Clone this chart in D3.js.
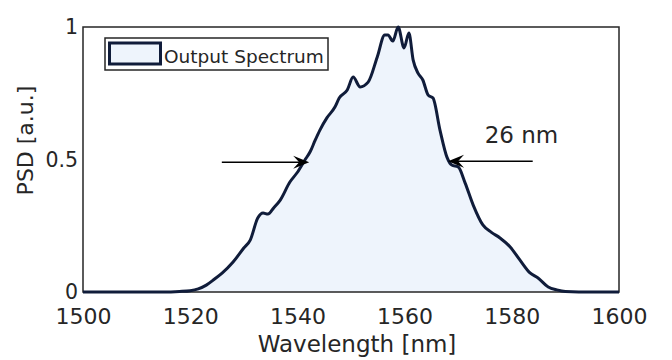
<!DOCTYPE html>
<html>
<head>
<meta charset="utf-8">
<script src="https://cdn.jsdelivr.net/npm/d3@7"></script>
<style>
  body { margin: 0; background: #fff; }
  text { font-family: 'DejaVu Sans', sans-serif; fill: #262626; }
</style>
</head>
<body>
<div id="chart"></div>
<script>
// spectrum
const wavelength = [1500, 1505, 1510, 1515, 1518, 1520, 1521.5, 1523, 1524.5, 1526, 1528, 1530, 1531.2,
  1532.6, 1533.6, 1534.5, 1535.6, 1536.8, 1538.6, 1539.9, 1541.4, 1542.4, 1543.3, 1544.2, 1545.5, 1547,
  1547.8, 1549.3, 1550.4, 1551.7, 1553.2, 1554.9, 1556.3, 1556.9, 1557.8, 1558.8, 1559.9, 1560.8, 1561.6,
  1562.5, 1563.4, 1564.4, 1565.3, 1566.6, 1567.9, 1568.8, 1570, 1571.3, 1572.8, 1574.6, 1576.2, 1577.8,
  1579.7, 1581.5, 1583.4, 1584.9, 1586.8, 1588.4, 1590, 1595, 1600];
const psd = [0, 0, 0, 0, 0.002, 0.005, 0.012, 0.026, 0.048, 0.072, 0.113, 0.166, 0.196,
  0.279, 0.298, 0.294, 0.318, 0.347, 0.415, 0.449, 0.498, 0.530, 0.572, 0.611, 0.657, 0.698,
  0.732, 0.762, 0.811, 0.774, 0.792, 0.887, 0.970, 0.970, 0.947, 1.0, 0.921, 0.977, 0.875,
  0.826, 0.800, 0.743, 0.732, 0.611, 0.509, 0.479, 0.472, 0.411, 0.328, 0.253, 0.225, 0.204,
  0.170, 0.121, 0.072, 0.053, 0.019, 0.008, 0.002, 0, 0];

const xTicks = [1500, 1520, 1540, 1560, 1580, 1600];
const yTicks = [0, 0.5, 1];
const yTickLabels = ['0', '0.5', '1'];

// FWHM annotation: [tail wavelength, tip wavelength, level]
const leftArrow = [1525.9, 1542.2, 0.49];
const rightArrow = [1583.9, 1568.1, 0.493];
const fwhmLabel = '26 nm';
const fwhmLabelPos = [1581.8, 0.562];

const margin = {top: 27, right: 53, bottom: 68, left: 83};
const width = 672 - margin.left - margin.right;
const height = 360 - margin.top - margin.bottom;

const svg = d3.select('#chart').append('svg')
  .attr('width', 672)
  .attr('height', 360);

const g = svg.append('g')
  .attr('transform', 'translate(' + margin.left + ',' + margin.top + ')');

const x = d3.scaleLinear().domain([1500, 1600]).range([0, width]);
const y = d3.scaleLinear().domain([0, 1]).range([height, 0]);

const data = wavelength.map((w, i) => ({w: w, v: psd[i]}));

const area = d3.area()
  .curve(d3.curveMonotoneX)
  .x(d => x(d.w))
  .y0(y(0))
  .y1(d => y(d.v));

const line = d3.line()
  .curve(d3.curveMonotoneX)
  .x(d => x(d.w))
  .y(d => y(d.v));

g.append('path')
  .datum(data)
  .attr('d', area)
  .attr('fill', '#eef4fc');

// axes box
g.append('rect')
  .attr('x', 0).attr('y', 0)
  .attr('width', width).attr('height', height)
  .attr('fill', 'none')
  .attr('stroke', '#262626')
  .attr('stroke-width', 1.5);

g.append('path')
  .datum(data)
  .attr('d', line)
  .attr('fill', 'none')
  .attr('stroke', '#101c3a')
  .attr('stroke-width', 3)
  .attr('stroke-linejoin', 'round');

// tick labels only, no tick marks
const xAxis = g.append('g')
  .attr('transform', 'translate(0,' + height + ')')
  .call(d3.axisBottom(x).tickValues(xTicks).tickSize(0).tickPadding(16).tickFormat(d3.format('d')));
xAxis.select('.domain').remove();
xAxis.selectAll('text')
  .style('font-size', '22px')
  .attr('dy', '0.71em')
  .attr('fill', '#262626');

const yAxis = g.append('g')
  .call(d3.axisLeft(y).tickValues(yTicks).tickSize(0).tickPadding(5)
    .tickFormat((d, i) => yTickLabels[i]));
yAxis.select('.domain').remove();
yAxis.selectAll('text')
  .style('font-size', '20.5px')
  .attr('fill', '#262626');

g.append('text')
  .attr('x', width / 2 + 6)
  .attr('y', height + 60)
  .attr('text-anchor', 'middle')
  .style('font-size', '23px')
  .text('Wavelength [nm]');

g.append('text')
  .attr('transform', 'translate(' + (-50) + ',' + (height / 2 - 19) + ') rotate(-90)')
  .attr('text-anchor', 'middle')
  .style('font-size', '22px')
  .text('PSD [a.u.]');

// arrows
function arrow(a) {
  const x0 = x(a[0]), x1 = x(a[1]), yy = y(a[2]);
  const dir = x1 > x0 ? 1 : -1;
  const len = 16, hw = 6.5, notch = 10;
  g.append('line')
    .attr('x1', x0).attr('y1', yy)
    .attr('x2', x1 - dir * notch).attr('y2', yy)
    .attr('stroke', '#000')
    .attr('stroke-width', 1.5);
  g.append('path')
    .attr('d', 'M' + x1 + ',' + yy +
      'L' + (x1 - dir * len) + ',' + (yy - hw) +
      'L' + (x1 - dir * notch) + ',' + yy +
      'L' + (x1 - dir * len) + ',' + (yy + hw) + 'Z')
    .attr('fill', '#000');
}
arrow(leftArrow);
arrow(rightArrow);

g.append('text')
  .attr('x', x(fwhmLabelPos[0]))
  .attr('y', y(fwhmLabelPos[1]))
  .attr('text-anchor', 'middle')
  .style('font-size', '23px')
  .attr('fill', '#000')
  .text(fwhmLabel);

// legend
const legend = svg.append('g').attr('transform', 'translate(105,38)');
legend.append('rect')
  .attr('width', 223).attr('height', 32)
  .attr('fill', '#fff')
  .attr('stroke', '#262626')
  .attr('stroke-width', 1.5);
legend.append('rect')
  .attr('x', 4.5).attr('y', 5)
  .attr('width', 51).attr('height', 21)
  .attr('fill', '#eef4fc')
  .attr('stroke', '#101c3a')
  .attr('stroke-width', 3);
legend.append('text')
  .attr('x', 59).attr('y', 24.5)
  .style('font-size', '18.5px')
  .text('Output Spectrum');
</script>
</body>
</html>
